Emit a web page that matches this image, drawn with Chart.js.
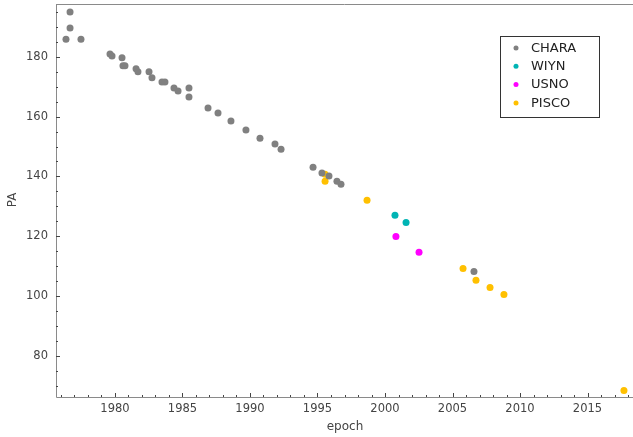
<!DOCTYPE html>
<html>
<head>
<meta charset="utf-8">
<script src="https://cdn.jsdelivr.net/npm/chart.js@4"></script>
<style>
  html, body { margin: 0; padding: 0; background: #fff; overflow: hidden; }
</style>
</head>
<body>
<canvas id="c" width="633" height="437"></canvas>
<script>
const charaEpoch = [1976.67, 1976.67, 1976.37, 1977.48, 1979.63, 1979.78, 1980.52, 1980.59, 1980.74, 1981.56,
  1981.7, 1982.52, 1982.74, 1983.48, 1983.7, 1984.37, 1984.67, 1985.48, 1985.48, 1986.89,
  1987.63, 1988.59, 1989.7, 1990.74, 1991.85, 1992.3, 1994.67, 1995.33, 1995.85, 1996.44, 1996.74, 2006.59];
const charaPA = [195.0, 189.7, 185.9, 185.9, 181.0, 180.3, 179.7, 177.0, 177.0, 176.0,
  175.0, 175.0, 173.0, 171.6, 171.6, 169.6, 168.6, 169.6, 166.6, 162.9,
  161.2, 158.5, 155.5, 152.8, 150.8, 149.1, 143.1, 141.1, 140.1, 138.4, 137.4, 108.2];
const wiynEpoch = [2000.74, 2001.56];
const wiynPA = [127.0, 124.6];
const usnoEpoch = [2000.81, 2002.52];
const usnoPA = [119.9, 114.6];
const piscoEpoch = [1995.56, 1995.56, 1998.67, 2005.78, 2006.74, 2007.78, 2008.81, 2017.7];
const piscoPA = [140.7, 138.4, 132.0, 109.2, 105.2, 102.8, 100.5, 68.3];

const xTicks = [1980, 1985, 1990, 1995, 2000, 2005, 2010, 2015];
const yTicks = [80, 100, 120, 140, 160, 180];

const pts = (xs, ys) => xs.map((x, i) => ({ x: x, y: ys[i] }));
const font = "'DejaVu Sans', sans-serif";

function ds(label, xs, ys, color) {
  return {
    label: label,
    data: pts(xs, ys),
    backgroundColor: color,
    borderColor: color,
    pointRadius: 3.5,
    pointBorderWidth: 0,
  };
}

// Mathematica-like frame: inward ticks, labels drawn from the scales
const frame = {
  id: "frame",
  afterDraw(chart) {
    const ctx = chart.ctx;
    const a = chart.chartArea;
    const xs = chart.scales.x, ys = chart.scales.y;
    ctx.save();
    ctx.strokeStyle = "#8a8a8a";
    ctx.lineWidth = 1;
    ctx.beginPath();
    ctx.moveTo(a.left + 0.5, a.top + 0.5);
    ctx.lineTo(a.left + 0.5, a.bottom + 0.5);
    ctx.lineTo(a.right, a.bottom + 0.5);
    ctx.moveTo(a.left, a.top + 0.5);
    ctx.lineTo(a.right, a.top + 0.5);
    ctx.stroke();

    ctx.strokeStyle = "#444";
    ctx.beginPath();
    for (let v = 1976; v <= 2018; v++) {
      const px = Math.round(xs.getPixelForValue(v)) + 0.5;
      const len = v % 5 === 0 ? 4 : 2;
      ctx.moveTo(px, a.bottom);
      ctx.lineTo(px, a.bottom - len);
    }
    for (let v = 70; v <= 195; v += 5) {
      const py = Math.round(ys.getPixelForValue(v)) + 0.5;
      const len = v % 20 === 0 ? 4 : 2;
      ctx.moveTo(a.left, py);
      ctx.lineTo(a.left + len, py);
    }
    ctx.stroke();

    ctx.fillStyle = "#444";
    ctx.font = "11.5px " + font;
    ctx.textAlign = "center";
    ctx.textBaseline = "middle";
    xTicks.forEach((v) => ctx.fillText(String(v), xs.getPixelForValue(v), a.bottom + 12));
    ctx.textAlign = "right";
    yTicks.forEach((v) => ctx.fillText(String(v), a.left - 8, ys.getPixelForValue(v)));

    ctx.font = "12px " + font;
    ctx.textAlign = "center";
    ctx.fillText("epoch", (a.left + a.right) / 2 + 0.5, a.bottom + 30);
    ctx.translate(13, 200);
    ctx.rotate(-Math.PI / 2);
    ctx.fillText("PA", 0, 0);
    ctx.restore();
  },
};

// boxed legend inside the plot, top right
const boxLegend = {
  id: "boxLegend",
  afterDraw(chart) {
    const ctx = chart.ctx;
    const x0 = 500.5, y0 = 36.5, w = 99, h = 81;
    ctx.save();
    ctx.fillStyle = "#fff";
    ctx.fillRect(x0, y0, w, h);
    ctx.strokeStyle = "#333";
    ctx.lineWidth = 1;
    ctx.strokeRect(x0, y0, w, h);
    ctx.font = "13px " + font;
    ctx.textBaseline = "middle";
    chart.data.datasets.forEach((d, i) => {
      const y = 48 + i * 18.3;
      ctx.fillStyle = d.backgroundColor;
      ctx.beginPath();
      ctx.arc(516, y, 2.5, 0, Math.PI * 2);
      ctx.fill();
      ctx.fillStyle = "#222";
      ctx.fillText(d.label, 531, y + 0.5);
    });
    ctx.restore();
  },
};

new Chart(document.getElementById("c"), {
  type: "scatter",
  data: {
    datasets: [
      ds("CHARA", charaEpoch, charaPA, "#808080"),
      ds("WIYN", wiynEpoch, wiynPA, "#00b4b4"),
      ds("USNO", usnoEpoch, usnoPA, "#ff00ff"),
      ds("PISCO", piscoEpoch, piscoPA, "#ffc000"),
    ],
  },
  options: {
    responsive: false,
    animation: false,
    layout: { autoPadding: false, padding: { top: 4, right: 0, left: 0, bottom: 0 } },
    plugins: {
      legend: { display: false },
      tooltip: { enabled: false },
    },
    scales: {
      x: {
        type: "linear",
        min: 1975.63,
        max: 2018.37,
        grid: { display: false },
        border: { display: false },
        ticks: { display: false },
        afterFit: (s) => { s.height = 40; },
      },
      y: {
        min: 66.16,
        max: 197.7,
        grid: { display: false },
        border: { display: false },
        ticks: { display: false },
        afterFit: (s) => { s.width = 56; },
      },
    },
  },
  plugins: [frame, boxLegend],
});
</script>
</body>
</html>
